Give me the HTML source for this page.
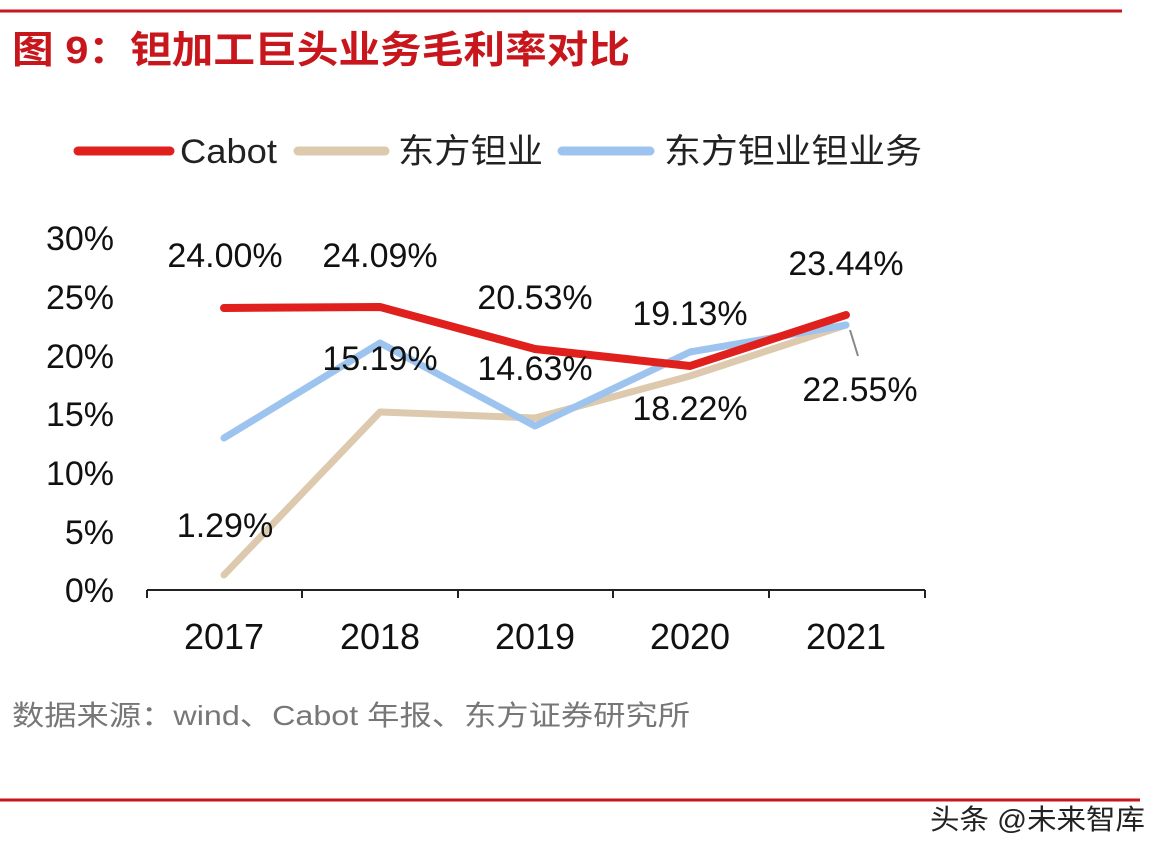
<!DOCTYPE html>
<html><head><meta charset="utf-8"><style>
body{margin:0;background:#fff;}
svg{display:block;}
text{font-family:"Liberation Sans","Noto Sans CJK SC",sans-serif;}
</style></head><body>
<svg width="1170" height="856" viewBox="0 0 1170 856" xmlns="http://www.w3.org/2000/svg">
<rect width="1170" height="856" fill="#fff"/>
<line x1="0" y1="11" x2="1122" y2="11" stroke="#c8161d" stroke-width="3"/>
<text x="12" y="63" font-size="38" font-weight="bold" fill="#c8161d" textLength="618" lengthAdjust="spacingAndGlyphs">图 9：钽加工巨头业务毛利率对比</text>
<!-- legend -->
<line x1="78" y1="151" x2="170" y2="151" stroke="#e0201c" stroke-width="9" stroke-linecap="round"/>
<text x="180" y="163" font-size="34" fill="#222" textLength="97" lengthAdjust="spacingAndGlyphs">Cabot</text>
<line x1="298" y1="151" x2="385" y2="151" stroke="#ddc9ae" stroke-width="9" stroke-linecap="round"/>
<text x="398" y="163" font-size="34" fill="#222" textLength="145" lengthAdjust="spacingAndGlyphs">东方钽业</text>
<line x1="562" y1="151" x2="650" y2="151" stroke="#9dc3ef" stroke-width="9" stroke-linecap="round"/>
<text x="664" y="163" font-size="34" fill="#222" textLength="258" lengthAdjust="spacingAndGlyphs">东方钽业钽业务</text>
<!-- y labels -->
<g font-size="34" fill="#111" text-anchor="end">
<text x="114" y="250">30%</text>
<text x="114" y="309">25%</text>
<text x="114" y="368">20%</text>
<text x="114" y="426">15%</text>
<text x="114" y="485">10%</text>
<text x="114" y="544">5%</text>
<text x="114" y="602">0%</text>
</g>
<!-- axes -->
<line x1="147" y1="590" x2="925" y2="590" stroke="#222" stroke-width="2"/>
<g stroke="#222" stroke-width="2">
<line x1="147" y1="590" x2="147" y2="598"/><line x1="302" y1="590" x2="302" y2="598"/>
<line x1="458" y1="590" x2="458" y2="598"/><line x1="613" y1="590" x2="613" y2="598"/>
<line x1="769" y1="590" x2="769" y2="598"/><line x1="925" y1="590" x2="925" y2="598"/>
</g>
<g font-size="36" fill="#111" text-anchor="middle">
<text x="224" y="649">2017</text><text x="380" y="649">2018</text><text x="535" y="649">2019</text>
<text x="690" y="649">2020</text><text x="846" y="649">2021</text>
</g>
<!-- series -->
<polyline points="224,575 380,412 535,418 690,376 846,325" fill="none" stroke="#ddc9ae" stroke-width="7" stroke-linejoin="round" stroke-linecap="round"/>
<polyline points="224,438 380,343 535,426 690,352 846,325" fill="none" stroke="#9dc3ef" stroke-width="7" stroke-linejoin="round" stroke-linecap="round"/>
<polyline points="224,308 380,307 535,349 690,366 846,315" fill="none" stroke="#e0201c" stroke-width="8" stroke-linejoin="round" stroke-linecap="round"/>
<line x1="858" y1="356" x2="850" y2="330" stroke="#888" stroke-width="2"/>
<!-- data labels -->
<g font-size="34" fill="#111" text-anchor="middle">
<text x="225" y="267">24.00%</text>
<text x="380" y="267">24.09%</text>
<text x="535" y="309">20.53%</text>
<text x="690" y="325">19.13%</text>
<text x="846" y="275">23.44%</text>
<text x="380" y="370">15.19%</text>
<text x="535" y="380">14.63%</text>
<text x="690" y="420">18.22%</text>
<text x="860" y="401">22.55%</text>
<text x="225" y="537">1.29%</text>
</g>
<text x="12" y="725" font-size="28" fill="#777" textLength="678" lengthAdjust="spacingAndGlyphs">数据来源：wind、Cabot 年报、东方证券研究所</text>
<line x1="0" y1="800" x2="1140" y2="800" stroke="#c8161d" stroke-width="3"/>
<text x="930" y="829" font-size="28" fill="#222" textLength="215" lengthAdjust="spacingAndGlyphs">头条 @未来智库</text>
</svg>
</body></html>
